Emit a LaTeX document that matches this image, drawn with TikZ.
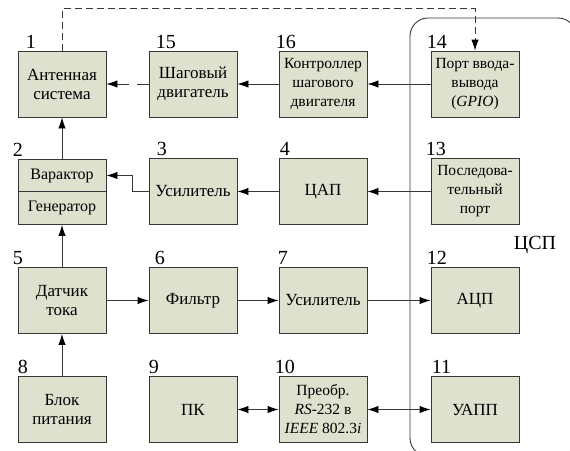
\documentclass[tikz,border=0pt]{standalone}
\usepackage{fontspec}
\setmainfont{Liberation Serif}
\usetikzlibrary{arrows.meta}
\definecolor{boxfill}{RGB}{221,225,205}
\definecolor{linegray}{RGB}{55,55,55}

\begin{document}
\begin{tikzpicture}[x=1pt,y=-1pt,
  block/.style={draw=linegray,fill=boxfill,line width=0.9pt,minimum width=88pt,minimum height=66pt,inner sep=1pt,align=center,font=\fontsize{17}{19}\selectfont},
  small/.style={font=\fontsize{15.5}{19}\selectfont},
  num/.style={anchor=south west,inner sep=0pt,yshift=2pt,font=\fontsize{20}{20}\selectfont},
  link/.style={draw=linegray,line width=0.9pt,-{Latex[length=11pt,width=7.5pt,color=black]}},
  both/.style={link,{Latex[length=11pt,width=7.5pt,color=black]}-{Latex[length=11pt,width=7.5pt,color=black]}}
]
\useasboundingbox (0,0) rectangle (570,450);
\clip (0,0) rectangle (570,450);
% DSP frame
\draw[draw=linegray,line width=0.9pt,rounded corners=18pt] (410,18) rectangle (576,456);
\node[font=\fontsize{20}{20}\selectfont] (dsp) at (535,245) {ЦСП};
% Row 1
\node[block,label={[num,xshift=8pt]north west:1}] (ant) at (62,84) {Антенная\\система};
\node[block,label={[num,xshift=7pt]north west:15}] (motor) at (193,84) {Шаговый\\двигатель};
\node[block,small,label={[num,xshift=-3pt]north west:16}] (ctrl) at (323,84) {Контроллер\\шагового\\двигателя};
\node[block,small,label={[num,xshift=-4pt]north west:14}] (gpio) at (475,84) {Порт ввода-\\вывода\\(\textit{GPIO})};
% Row 2
\node[block,minimum height=33pt,font=\fontsize{16}{18}\selectfont,label={[num,xshift=-5pt]north west:2}] (var) at (62,175.5) {Варактор};
\node[block,minimum height=33pt,font=\fontsize{16}{18}\selectfont] (gen) at (62,208) {Генератор};
\node[block,label={[num,xshift=8pt]north west:3}] (amp) at (193,191.5) {Усилитель};
\node[block,label={[num,xshift=1pt]north west:4}] (dac) at (323,191.5) {ЦАП};
\node[block,small,label={[num,xshift=-5pt]north west:13}] (serial) at (475,191.5) {Последова-\\тельный\\порт};
% Row 3
\node[block,label={[num,xshift=-5pt]north west:5}] (sensor) at (62,300.5) {Датчик\\тока};
\node[block,label={[num,xshift=6pt]north west:6}] (filter) at (193,300.5) {Фильтр};
\node[block,label={[num,xshift=-1pt]north west:7}] (amp2) at (323,300.5) {Усилитель};
\node[block,label={[num,xshift=-4pt]north west:12}] (adc) at (475,300.5) {АЦП};
% Row 4
\node[block,label={[num]north west:8}] (power) at (62,409.5) {Блок\\питания};
\node[block,label={[num]north west:9}] (pc) at (193,409.5) {ПК};
\node[block,small,label={[num,xshift=-4pt]north west:10}] (conv) at (323,409.5) {Преобр.\\\textit{RS}-232 в\\\textit{IEEE} 802.3\textit{i}};
\node[block,label={[num,xshift=1pt]north west:11}] (uart) at (475,409.5) {УАПП};
% Connections
\draw[link,dashed,dash pattern=on 7pt off 4pt] (ant.north) -- ++(0,-42) -| (gpio.north);
\draw[link,dashed,dash pattern=on 12pt off 8pt] (motor) -- (ant);
\draw[link] (ctrl) -- (motor);
\draw[link] (gpio) -- (ctrl);
\draw[link] (var) -- (ant);
\draw[link] (amp.west) -- ++(-16,0) |- (var.east);
\draw[link] (dac) -- (amp);
\draw[link] (serial) -- (dac);
\draw[link] (sensor) -- (gen);
\draw[link] (sensor) -- (filter);
\draw[link] (filter) -- (amp2);
\draw[link] (amp2) -- (adc);
\draw[link] (power) -- (sensor);
\draw[both] (pc) -- (conv);
\draw[both] (conv) -- (uart);
\end{tikzpicture}
\end{document}
